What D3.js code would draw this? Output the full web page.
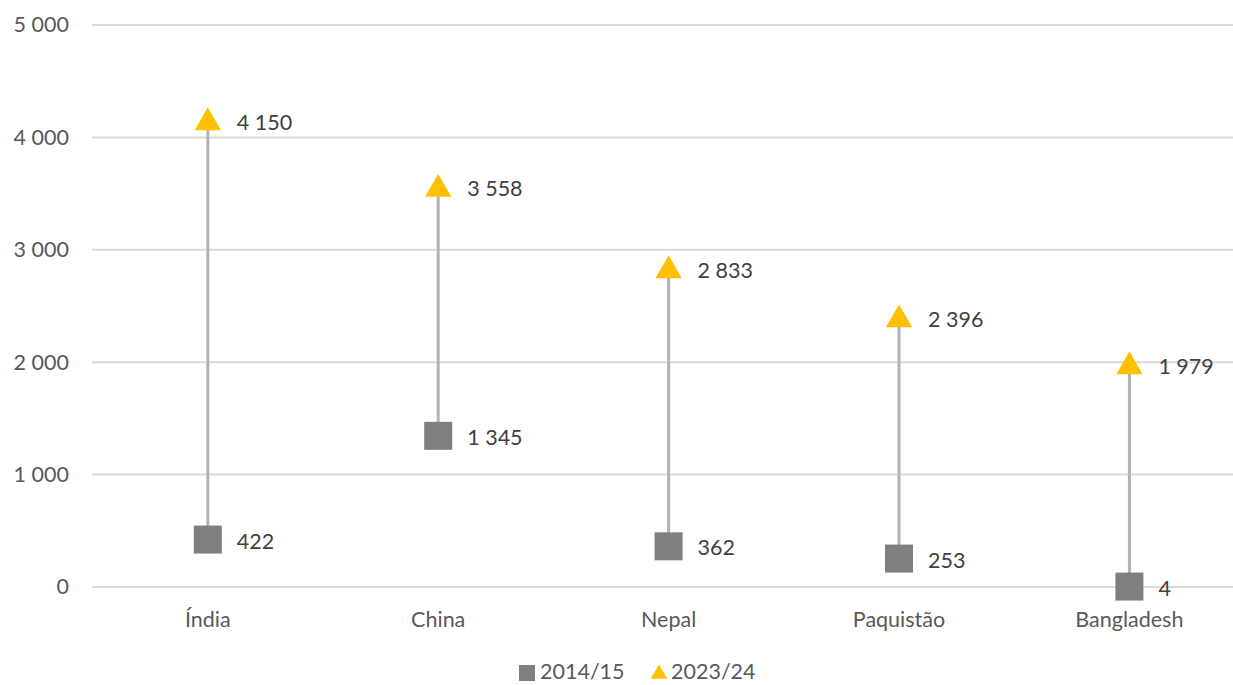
<!DOCTYPE html>
<html><head><meta charset="utf-8">
<script src="https://cdn.jsdelivr.net/npm/d3@7"></script>
<style>body{margin:0;background:#fff;} text{font-family:Lato,"Open Sans",sans-serif;}</style>
</head><body>
<svg id="c" width="1233" height="685"></svg>
<script>
const categories = ["Índia","China","Nepal","Paquistão","Bangladesh"];
const values2014 = [422,1345,362,253,4];
const values2023 = [4150,3558,2833,2396,1979];
const seriesNames = ["2014/15","2023/24"];
const yTicks = [0,1000,2000,3000,4000,5000];

const svg = d3.select("#c");
const fmt = v => d3.format(",")(v).replace(/,/g," ");
const x = d3.scaleBand().domain(categories).range([92.6,1244.6]);
const y = d3.scaleLinear().domain([0,5000]).range([587,25]);
const cx = c => x(c)+x.bandwidth()/2;
const textCol = "#595959";
const FS = "21.5px";

// gridlines
svg.append("g").selectAll("line").data(yTicks).join("line")
  .attr("x1",92).attr("x2",1233).attr("y1",d=>y(d)).attr("y2",d=>y(d))
  .attr("stroke","#d9d9d9").attr("stroke-width",2);
const yAxis = d3.axisLeft(y).tickValues(yTicks).tickSize(0).tickFormat(fmt).tickPadding(0);
const ga = svg.append("g").attr("transform","translate(92,0)").call(yAxis);
ga.select(".domain").remove();
ga.selectAll("text").attr("x",-23).attr("fill",textCol).style("font-size",FS).style("font-family","Lato,sans-serif");

// x axis labels
const xAxis = d3.axisBottom(x).tickSize(0).tickPadding(0);
const gx = svg.append("g").attr("transform","translate(0,587)").call(xAxis);
gx.select(".domain").remove();
gx.selectAll("text").attr("y",25).attr("fill",textCol).style("font-size",FS).style("font-family","Lato,sans-serif");

const data = categories.map((c,i)=>({c,a:values2014[i],b:values2023[i]}));
// stems
svg.append("g").selectAll("line").data(data).join("line")
  .attr("x1",d=>cx(d.c)).attr("x2",d=>cx(d.c))
  .attr("y1",d=>y(d.a)).attr("y2",d=>y(d.b))
  .attr("stroke","#b3b3b3").attr("stroke-width",3);

const sq = d3.symbol().type(d3.symbolSquare).size(28*28);
const tri = d3.symbol().type(d3.symbolTriangle).size(300);
svg.append("g").selectAll("path").data(data).join("path")
  .attr("d",sq).attr("transform",d=>`translate(${cx(d.c)},${y(d.a)})`)
  .attr("fill","#7f7f7f");
svg.append("g").selectAll("path").data(data).join("path")
  .attr("d",tri).attr("transform",d=>`translate(${cx(d.c)},${y(d.b)+2})`)
  .attr("fill","#ffc000");

// labels
const lblStyle = sel => sel.attr("fill","#404040").style("font-size",FS)
  .style("font-family","Lato,sans-serif").attr("dominant-baseline","central");
svg.append("g").selectAll("text").data(data).join("text")
  .attr("x",d=>cx(d.c)+29).attr("y",d=>y(d.a)+1).text(d=>fmt(d.a)).call(lblStyle);
svg.append("g").selectAll("text").data(data).join("text")
  .attr("x",d=>cx(d.c)+29).attr("y",d=>y(d.b)+1).text(d=>fmt(d.b)).call(lblStyle);

// legend
const lg = svg.append("g");
lg.append("path").attr("d",d3.symbol().type(d3.symbolSquare).size(16*16)).attr("transform","translate(527,673)").attr("fill","#7f7f7f");
lg.append("text").attr("x",540).attr("y",679).text(seriesNames[0]).attr("fill",textCol).style("font-size",FS);
lg.append("path").attr("d",d3.symbol().type(d3.symbolTriangle).size(120)).attr("transform","translate(659,674)").attr("fill","#ffc000");
lg.append("text").attr("x",671).attr("y",679).text(seriesNames[1]).attr("fill",textCol).style("font-size",FS);
</script>
</body></html>
